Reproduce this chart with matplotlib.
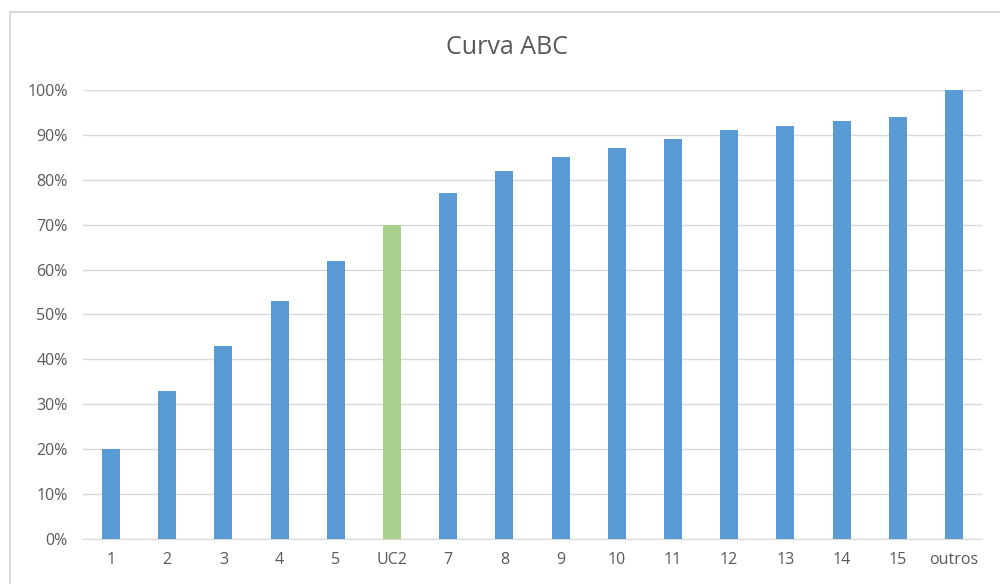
import matplotlib.pyplot as plt
from matplotlib.patches import Rectangle
from matplotlib.ticker import PercentFormatter

# Curva ABC - percentual acumulado por item
categorias = ['1', '2', '3', '4', '5', 'UC2', '7', '8', '9', '10',
              '11', '12', '13', '14', '15', 'outros']
acumulado = [0.20, 0.33, 0.43, 0.53, 0.62, 0.70, 0.77, 0.82, 0.85, 0.87,
             0.89, 0.91, 0.92, 0.93, 0.94, 1.00]
destaque = 'UC2'

azul = '#5B9BD5'
verde = '#A9D18E'
cinza_txt = '#595959'

plt.rcParams['font.family'] = ['Open Sans', 'DejaVu Sans']

fig = plt.figure(figsize=(10, 5.84), dpi=100)
# moldura da area do grafico
fig.patches.append(Rectangle((0.0095, -0.05), 1.2, 1 - 12 / 584 + 0.05,
                             transform=fig.transFigure, fill=False,
                             edgecolor='#D9D9D9', lw=1.5))

ax = fig.add_axes([0.083, 0.077, 0.899, 0.769])
cores = [verde if c == destaque else azul for c in categorias]
ax.bar(range(len(categorias)), acumulado, width=0.32, color=cores, zorder=3)

ax.set_xlim(-0.5, len(categorias) - 0.5)
ax.set_ylim(0, 1.0)
ax.set_yticks([i / 10 for i in range(11)])
ax.yaxis.set_major_formatter(PercentFormatter(1.0, decimals=0))
ax.set_xticks(range(len(categorias)))
ax.set_xticklabels(categorias)

ax.grid(axis='y', color='#D9D9D9', lw=1, zorder=0)
for s in ['top', 'right', 'left']:
    ax.spines[s].set_visible(False)
ax.spines['bottom'].set_color('#D9D9D9')
ax.tick_params(axis='both', length=0, labelsize=11.5, colors=cinza_txt)
ax.tick_params(axis='y', pad=11)
ax.tick_params(axis='x', pad=9)

fig.text(0.507, 1 - 47 / 584, 'Curva ABC', ha='center', va='center',
         fontsize=18, color=cinza_txt)

fig.savefig('out.png', dpi=100)
